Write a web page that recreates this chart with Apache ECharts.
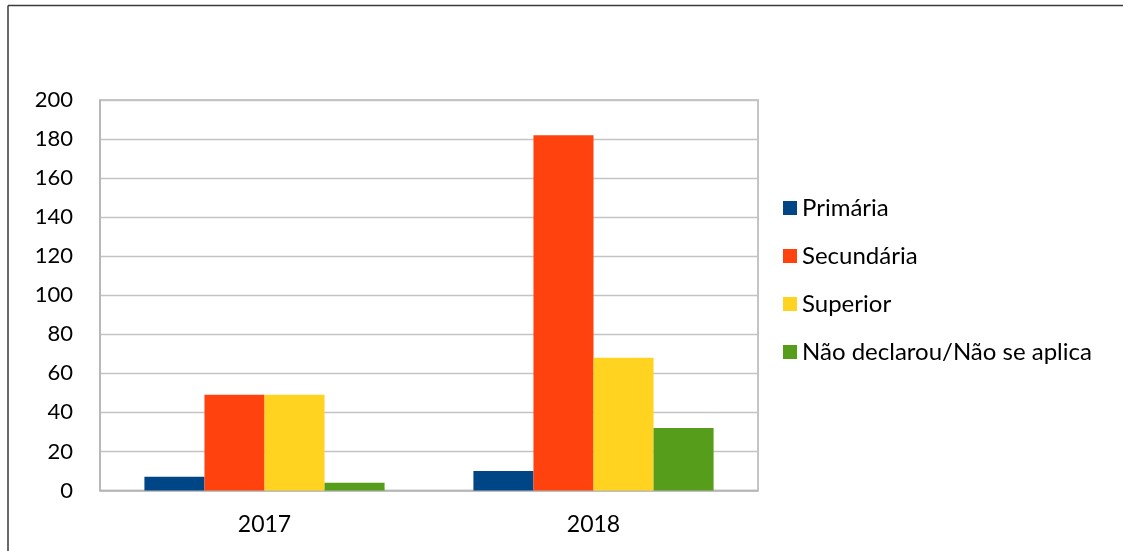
<!DOCTYPE html>
<html>
<head>
<meta charset="utf-8">
<script src="https://cdn.jsdelivr.net/npm/echarts@6/dist/echarts.min.js"></script>
<style>
  html, body { margin: 0; padding: 0; background: #fff; }
  #chart { width: 1123px; height: 551px; }
</style>
</head>
<body>
<div id="chart"></div>
<script>
// Years on the category axis
const years = ['2017', '2018'];

// Counts per education level
const primaria = [7, 10];
const secundaria = [49, 182];
const superior = [49, 68];
const naoDeclarou = [4, 32];

// Value axis ticks
const yTicks = [0, 20, 40, 60, 80, 100, 120, 140, 160, 180, 200];

const FONT = 'Lato';

const seriesDefs = [
  { name: 'Primária', data: primaria, color: '#004586' },
  { name: 'Secundária', data: secundaria, color: '#ff420e' },
  { name: 'Superior', data: superior, color: '#ffd320' },
  { name: 'Não declarou/Não se aplica', data: naoDeclarou, color: '#579d1c' }
];

const chart = echarts.init(document.getElementById('chart'), null, { renderer: 'canvas' });

chart.setOption({
  animation: false,
  backgroundColor: '#ffffff',
  textStyle: { fontFamily: FONT },
  graphic: [
    // outer frame (top and left edges)
    { type: 'line', shape: { x1: 8, y1: 5.5, x2: 1123, y2: 5.5 }, style: { stroke: '#3a3a3a', lineWidth: 1.5 } },
    { type: 'line', shape: { x1: 8, y1: 5.5, x2: 8, y2: 551 }, style: { stroke: '#3a3a3a', lineWidth: 1.5 } }
  ],
  grid: {
    left: 100, right: 365, top: 100, bottom: 60.5,
    show: true, borderColor: '#b3b3b3', borderWidth: 1.5
  },
  legend: {
    orient: 'vertical',
    left: 783, top: 196,
    padding: 0,
    itemWidth: 14, itemHeight: 14, itemGap: 24,
    icon: 'rect',
    textStyle: { fontFamily: FONT, fontSize: 24, color: '#000', lineHeight: 24 },
    data: seriesDefs.map(s => s.name)
  },
  xAxis: {
    type: 'category',
    data: years,
    axisLine: { show: true, lineStyle: { color: '#b3b3b3', width: 1.5 } },
    axisTick: { show: false },
    axisLabel: { color: '#000', fontFamily: FONT, fontSize: 23, margin: 23 }
  },
  yAxis: {
    type: 'value',
    min: yTicks[0],
    max: yTicks[yTicks.length - 1],
    interval: yTicks[1] - yTicks[0],
    axisLine: { show: true, lineStyle: { color: '#b3b3b3', width: 1.5 } },
    axisTick: { show: false },
    splitLine: { show: true, lineStyle: { color: '#c4c4c4', width: 1.3 } },
    axisLabel: { color: '#000', fontFamily: FONT, fontSize: 22, margin: 27 }
  },
  series: seriesDefs.map(s => ({
    name: s.name,
    type: 'bar',
    data: s.data,
    barGap: '0%',
    barCategoryGap: '27%',
    itemStyle: { color: s.color }
  }))
});
</script>
</body>
</html>
